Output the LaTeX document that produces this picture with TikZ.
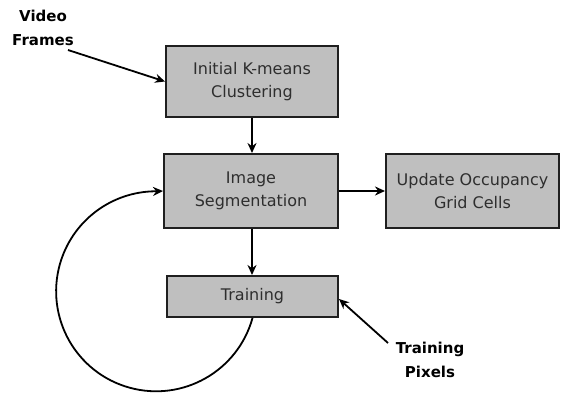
\documentclass[tikz,border=0pt]{standalone}
\usepackage{fontspec}
\setmainfont{DejaVu Sans}
\usetikzlibrary{arrows.meta}
\begin{document}
\begin{tikzpicture}[x=1pt,y=1pt,
  procbox/.style={draw=black!88, line width=2pt, fill=black!25, text=black!82,
    inner sep=0pt, align=center, font=\fontsize{16}{23}\selectfont},
  lbl/.style={align=center, text=black, font=\bfseries\fontsize{15}{24}\selectfont},
  conn/.style={line width=1.8pt, -{Stealth[length=10pt,width=9pt]}}]
\useasboundingbox (0,0) rectangle (561,-396);
\node[procbox, minimum width=172pt, minimum height=71pt] (km) at (252,-81.5) {Initial K-means\\Clustering};
\node[procbox, minimum width=174pt, minimum height=74pt] (seg) at (251,-191) {Image\\Segmentation};
\node[procbox, minimum width=173pt, minimum height=74pt] (occ) at (472.5,-191) {Update Occupancy\\Grid Cells};
\node[procbox, minimum width=171pt, minimum height=41pt] (train) at (252.5,-296.5) {Training};
\node[lbl] (video) at (43,-28) {Video\\Frames};
\node[lbl] (pixels) at (430,-360) {Training\\Pixels};
\coordinate (vs) at (68,-50);
\coordinate (ps) at (388,-343);
\coordinate (pe) at (339,-299);
\draw[conn] (vs) -- (km.west);
\draw[conn] (km.south -| 252,0) -- (seg.north -| 252,0);
\draw[conn] (seg.east) -- (occ.west);
\draw[conn] (seg.south -| 252,0) -- (train.north -| 252,0);
\draw[conn] (ps) -- (pe);
\draw[conn] (train.south) arc[start angle=-15.5, end angle=-270, radius=100] -- (seg.west);
\end{tikzpicture}
\end{document}
